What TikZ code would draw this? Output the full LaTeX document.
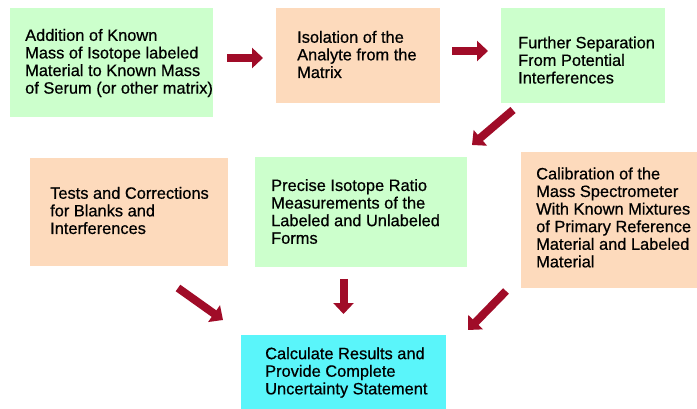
\documentclass[tikz,border=0pt]{standalone}
\usepackage{fontspec}
\setmainfont{Liberation Sans}[BoldFont=Liberation Sans,BoldFeatures={FakeBold=0.6}]
\usetikzlibrary{arrows.meta}
\definecolor{boxgreen}{RGB}{204,255,204}
\definecolor{boxpeach}{RGB}{253,218,188}
\definecolor{boxcyan}{RGB}{90,245,250}
\definecolor{arrowred}{RGB}{160,12,40}
\begin{document}
\begin{tikzpicture}[x=1pt,y=-1pt,
  box/.style={draw=none,inner sep=0pt,outer sep=0pt,anchor=north west},
  lbl/.style={anchor=west,align=left,inner sep=0pt,font=\fontsize{16.4}{17.6}\selectfont\bfseries},
  flow/.style={draw=arrowred,line width=8pt,-{Triangle[length=11pt,width=20pt]}}]
\useasboundingbox[fill=white] (0,0) rectangle (697,409);
% boxes
\node[box,fill=boxgreen,minimum width=203pt,minimum height=109pt] (b1) at (10,8) {};
\node[box,fill=boxpeach,minimum width=164pt,minimum height=95pt] (b2) at (276,8) {};
\node[box,fill=boxgreen,minimum width=164pt,minimum height=95pt] (b3) at (501,8) {};
\node[box,fill=boxpeach,minimum width=198pt,minimum height=108pt] (b4) at (30,158) {};
\node[box,fill=boxgreen,minimum width=212pt,minimum height=110pt] (b5) at (255,157) {};
\node[box,fill=boxpeach,minimum width=176pt,minimum height=136pt] (b6) at (521,152) {};
\node[box,fill=boxcyan,minimum width=205pt,minimum height=74pt] (b7) at (241,335) {};
% texts
\node[lbl] (t1) at (25,63) {Addition of Known\\Mass of Isotope labeled\\Material to Known Mass\\of Serum (or other matrix)};
\node[lbl] (t2) at (297,54.5) {Isolation of the\\Analyte from the\\Matrix};
\node[lbl] (t3) at (518,60) {Further Separation\\From Potential\\Interferences};
\node[lbl] (t4) at (50,210.5) {Tests and Corrections\\for Blanks and\\Interferences};
\node[lbl] (t5) at (271,211.5) {Precise Isotope Ratio\\Measurements of the\\Labeled and Unlabeled\\Forms};
\node[lbl] (t6) at (536,217.5) {Calibration of the\\Mass Spectrometer\\With Known Mixtures\\of Primary Reference\\Material and Labeled\\Material};
\node[lbl] (t7) at (265,372.5) {Calculate Results and\\Provide Complete\\Uncertainty Statement};
% arrow end points
\coordinate (a1s) at (227,58);    \coordinate (a1e) at (263,58);
\coordinate (a2s) at (452,51);    \coordinate (a2e) at (488,51);
\coordinate (a3s) at (513,110);   \coordinate (a3e) at (472,145);
\coordinate (a4s) at (178,288);   \coordinate (a4e) at (223,320);
\coordinate (a5s) at (343.5,279); \coordinate (a5e) at (343.5,314);
\coordinate (a6s) at (506,291);   \coordinate (a6e) at (468,330);
\draw[flow] (a1s) -- (a1e);
\draw[flow] (a2s) -- (a2e);
\draw[flow] (a3s) -- (a3e);
\draw[flow] (a4s) -- (a4e);
\draw[flow] (a5s) -- (a5e);
\draw[flow] (a6s) -- (a6e);
\end{tikzpicture}
\end{document}
